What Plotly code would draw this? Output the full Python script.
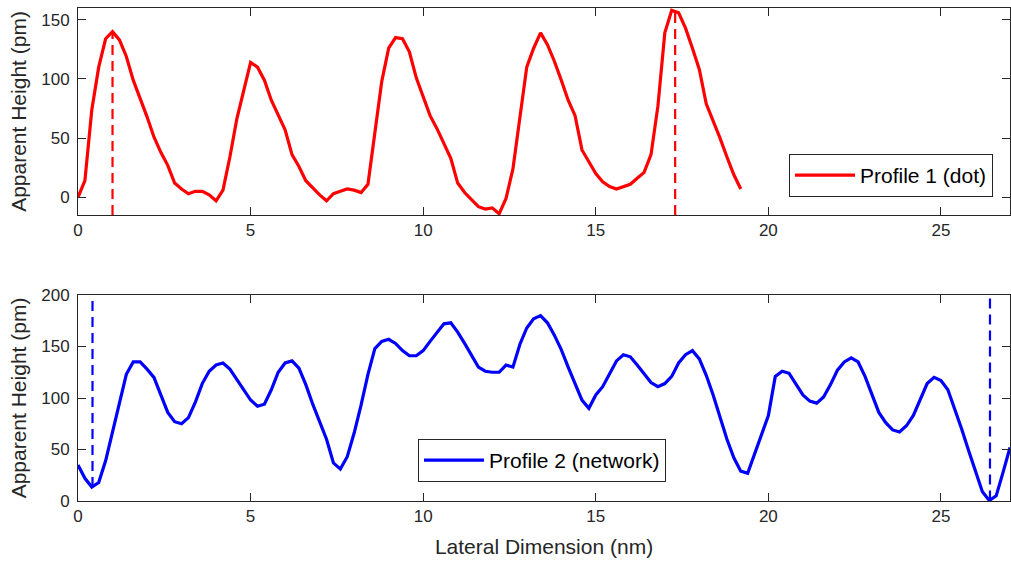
import plotly.graph_objects as go

# Profile 1 (dot)
x1 = [0.0, 0.2, 0.4, 0.6, 0.8, 1.0, 1.2, 1.4, 1.6, 1.8, 2.0, 2.2, 2.4, 2.6, 2.8, 3.0, 3.2, 3.4, 3.6, 3.8,
      4.0, 4.2, 4.4, 4.6, 4.8, 5.0, 5.2, 5.4, 5.6, 5.8, 6.0, 6.2, 6.4, 6.6, 6.8, 7.0, 7.2, 7.4, 7.6, 7.8,
      8.0, 8.2, 8.4, 8.6, 8.8, 9.0, 9.2, 9.4, 9.6, 9.8, 10.0, 10.2, 10.4, 10.6, 10.8, 11.0, 11.2, 11.4, 11.6, 11.8,
      12.0, 12.2, 12.4, 12.6, 12.8, 13.0, 13.2, 13.4, 13.6, 13.8, 14.0, 14.2, 14.4, 14.6, 14.8, 15.0, 15.2, 15.4, 15.6, 15.8,
      16.0, 16.2, 16.4, 16.6, 16.8, 17.0, 17.2, 17.4, 17.6, 17.8, 18.0, 18.2, 18.4, 18.6, 18.8, 19.0, 19.2]
y1 = [0, 14, 74, 110, 134, 140, 133, 119, 99, 84, 68, 51, 38, 27, 12, 7, 3, 5, 5, 2,
      -3, 6, 34, 66, 91, 114, 110, 99, 82, 69, 57, 36, 26, 14, 8, 2, -3, 3, 5, 7,
      6, 4, 11, 54, 98, 126, 135, 134, 123, 101, 85, 69, 58, 46, 33, 12, 4, -2, -8, -10,
      -9, -14, -1, 24, 69, 110, 126, 139, 129, 115, 99, 82, 69, 40, 30, 20, 13, 9, 7, 9,
      11, 16, 21, 36, 77, 139, 158, 156, 143, 126, 108, 79, 65, 50, 34, 19, 7]

# Profile 2 (network)
x2 = [0.0, 0.2, 0.4, 0.6, 0.8, 1.0, 1.2, 1.4, 1.6, 1.8, 2.0, 2.2, 2.4, 2.6, 2.8, 3.0, 3.2, 3.4, 3.6, 3.8,
      4.0, 4.2, 4.4, 4.6, 4.8, 5.0, 5.2, 5.4, 5.6, 5.8, 6.0, 6.2, 6.4, 6.6, 6.8, 7.0, 7.2, 7.4, 7.6, 7.8,
      8.0, 8.2, 8.4, 8.6, 8.8, 9.0, 9.2, 9.4, 9.6, 9.8, 10.0, 10.2, 10.4, 10.6, 10.8, 11.0, 11.2, 11.4, 11.6, 11.8,
      12.0, 12.2, 12.4, 12.6, 12.8, 13.0, 13.2, 13.4, 13.6, 13.8, 14.0, 14.2, 14.4, 14.6, 14.8, 15.0, 15.2, 15.4, 15.6, 15.8,
      16.0, 16.2, 16.4, 16.6, 16.8, 17.0, 17.2, 17.4, 17.6, 17.8, 18.0, 18.2, 18.4, 18.6, 18.8, 19.0, 19.2, 19.4, 19.6, 19.8,
      20.0, 20.2, 20.4, 20.6, 20.8, 21.0, 21.2, 21.4, 21.6, 21.8, 22.0, 22.2, 22.4, 22.6, 22.8, 23.0, 23.2, 23.4, 23.6, 23.8,
      24.0, 24.2, 24.4, 24.6, 24.8, 25.0, 25.2, 25.4, 25.6, 25.8, 26.0, 26.2, 26.4, 26.6, 26.8, 27.0]
y2 = [35, 22, 13.5, 18, 39, 66, 96, 123, 135, 135, 128, 120, 103, 86, 77, 75, 81, 96, 114, 126,
      132, 134, 128, 118, 109, 98, 92, 94, 108, 125, 134, 136, 129, 113, 94, 78, 60, 37, 31, 43,
      66, 93, 123, 148, 155, 157, 153, 146, 141, 141, 146, 155, 163, 172, 173, 164, 153, 141, 130, 126,
      125, 125, 132, 130, 152, 168, 177, 180, 173, 161, 147, 130, 113, 98, 90, 103, 111, 123, 136, 142,
      140, 132, 124, 115, 111, 114, 121, 134, 142, 146, 138, 122, 103, 82, 60, 42, 29, 27, 46, 66,
      83, 121, 126, 124, 114, 103, 97, 95, 101, 113, 127, 135, 139, 135, 121, 103, 86, 76, 69, 67,
      73, 83, 99, 114, 120, 117, 108, 90, 70, 49, 29, 9, 0.5, 5, 28, 52]

# Marker lines (x position, value at curve)
mark1_x = [1.0, 17.3]
mark1_y = [140, 157]
mark2_x = [0.42, 26.42]
mark2_y = [13.5, 0.5]

x_ticks = [0, 5, 10, 15, 20, 25]
y1_ticks = [0, 50, 100, 150]
y2_ticks = [0, 50, 100, 150, 200]

RED = "#ff0000"
BLUE = "#0000ff"
AX = "#262626"
FONT = "Liberation Sans"

fig = go.Figure()
fig.add_trace(go.Scatter(x=x1, y=y1, mode="lines", line=dict(color=RED, width=3.2),
                         name="Profile 1 (dot)", xaxis="x", yaxis="y", legend="legend"))
for mx, my in zip(mark1_x, mark1_y):
    fig.add_trace(go.Scatter(x=[mx, mx], y=[-15, my], mode="lines",
                             line=dict(color=RED, width=2.2, dash="10px,6px"),
                             showlegend=False, xaxis="x", yaxis="y"))
fig.add_trace(go.Scatter(x=x2, y=y2, mode="lines", line=dict(color=BLUE, width=3.2),
                         name="Profile 2 (network)", xaxis="x2", yaxis="y2", legend="legend2"))
for mx, my in zip(mark2_x, mark2_y):
    fig.add_trace(go.Scatter(x=[mx, mx], y=[my, 200], mode="lines",
                             line=dict(color=BLUE, width=2.2, dash="10px,6px"),
                             showlegend=False, xaxis="x2", yaxis="y2"))

W, H = 1011, 563
xdom = [78 / W, 1010 / W]
axis_common = dict(showline=True, linecolor=AX, linewidth=1, mirror="ticks",
                   ticks="inside", ticklen=8, tickcolor=AX, tickwidth=1,
                   showgrid=False, zeroline=False, automargin=False,
                   tickfont=dict(family=FONT, size=17, color=AX))
title_font = dict(family=FONT, size=21, color=AX)

fig.update_layout(
    width=W, height=H,
    margin=dict(l=0, r=0, t=0, b=0),
    paper_bgcolor="white", plot_bgcolor="white",
    font=dict(family=FONT, color=AX),
    xaxis=dict(domain=xdom, range=[0, 27], tickvals=x_ticks, anchor="y", **axis_common),
    yaxis=dict(domain=[1 - 215 / H, 1 - 8 / H], range=[-15, 160], tickvals=y1_ticks, anchor="x",
               ticklabelstandoff=4,
               title=dict(text="Apparent Height (pm)", font=title_font, standoff=8),
               **axis_common),
    xaxis2=dict(domain=xdom, range=[0, 27], tickvals=x_ticks, anchor="y2",
                title=dict(text="Lateral Dimension (nm)", font=title_font, standoff=13),
                **axis_common),
    yaxis2=dict(domain=[1 - 501 / H, 1 - 295 / H], range=[0, 200], tickvals=y2_ticks, anchor="x2",
                ticklabelstandoff=4,
                title=dict(text="Apparent Height (pm)", font=title_font, standoff=8),
                **axis_common),
    legend=dict(x=993 / W, y=1 - 197 / H, xanchor="right", yanchor="bottom",
                bgcolor="white", bordercolor=AX, borderwidth=1, itemwidth=60,
                font=dict(family=FONT, size=21, color="black")),
    legend2=dict(x=418 / W, y=1 - 482 / H, xanchor="left", yanchor="bottom",
                 bgcolor="white", bordercolor=AX, borderwidth=1, itemwidth=60,
                 font=dict(family=FONT, size=21, color="black")),
)

fig.write_html("out.html")
